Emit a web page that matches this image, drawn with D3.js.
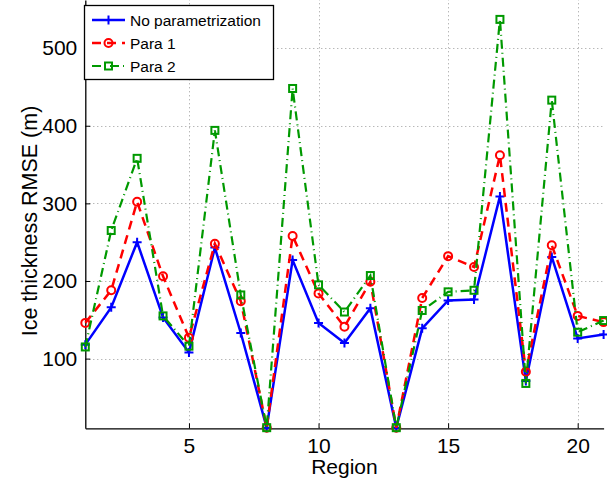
<!DOCTYPE html>
<html>
<head>
<meta charset="utf-8">
<script src="https://cdn.jsdelivr.net/npm/d3@7/dist/d3.min.js"></script>
<style>
  body { margin: 0; background: #fff; }
  svg { display: block; font-family: "Liberation Sans", Arial, sans-serif; }
</style>
</head>
<body>
<svg id="chart" width="607" height="483"></svg>
<script>
const regions = d3.range(1, 22);
const noPara = [118, 166, 250, 153, 108, 243, 133, 11, 227, 146, 120, 165, 11, 139, 175, 176, 309, 71, 231, 126, 131];
const para1  = [146, 188, 302, 206, 127, 248, 174, 11, 258, 184, 141, 199, 11, 178, 232, 218, 362, 83, 246, 155, 147];
const para2  = [115, 265, 358, 155, 116, 394, 182, 11, 448, 195, 160, 207, 11, 162, 186, 188, 537, 68, 433, 134, 149];
const xTicks = [5, 10, 15, 20];
const yTicks = [100, 200, 300, 400, 500];
const seriesNames = ["No parametrization", "Para 1", "Para 2"];

const svg = d3.select("#chart");
const x = d3.scaleLinear().domain([1, 21]).range([85.3, 603.6]);
const y = d3.scaleLinear().domain([10.2, 562]).range([428.3, 0]);

// grid
const grid = svg.append("g").attr("stroke", "#9a9a9a").attr("stroke-width", 1).attr("stroke-dasharray", "1,3");
grid.selectAll(".gx").data(xTicks).join("line")
  .attr("x1", d => Math.round(x(d)) + 0.5).attr("x2", d => Math.round(x(d)) + 0.5)
  .attr("y1", y.range()[0]).attr("y2", 0);
grid.selectAll(".gy").data(yTicks).join("line")
  .attr("y1", d => Math.round(y(d)) + 0.5).attr("y2", d => Math.round(y(d)) + 0.5)
  .attr("x1", x.range()[0]).attr("x2", x.range()[1]);

// axes
const xAxis = d3.axisBottom(x).tickValues(xTicks).tickSizeInner(-5).tickSizeOuter(0).tickPadding(10);
const yAxis = d3.axisLeft(y).tickValues(yTicks).tickSizeInner(-5).tickSizeOuter(0).tickPadding(8);
const gx = svg.append("g").attr("transform", `translate(0,${y.range()[0]})`).call(xAxis);
const gy = svg.append("g").attr("transform", `translate(${x.range()[0]},0)`).call(yAxis);
[gx, gy].forEach(g => {
  g.select(".domain").attr("stroke", "#000").attr("stroke-width", 1.3);
  g.selectAll(".tick line").attr("stroke", "#000").attr("stroke-width", 1);
  g.selectAll(".tick text").attr("fill", "#000").attr("font-size", 21).attr("font-family", "Liberation Sans, Arial, sans-serif");
});

svg.append("text").attr("x", (x.range()[0] + x.range()[1]) / 2).attr("y", 474)
  .attr("text-anchor", "middle").attr("font-size", 21).text("Region");
svg.append("text").attr("transform", `translate(37,221) rotate(-90)`)
  .attr("text-anchor", "middle").attr("font-size", 21.5).text("Ice thickness RMSE (m)");

const styles = [
  { data: noPara, color: "#0000ff", dash: null, width: 2.5, marker: "plus" },
  { data: para1, color: "#ff0000", dash: "9,6", width: 2.5, marker: "circle" },
  { data: para2, color: "#009900", dash: "9,4,1,4", width: 2.2, marker: "square" }
];

function drawMarker(g, type, color) {
  if (type === "plus") {
    g.append("path").attr("d", "M-4.5,0H4.5M0,-4.5V4.5").attr("stroke", color).attr("stroke-width", 2).attr("fill", "none");
  } else if (type === "circle") {
    g.append("circle").attr("r", 4).attr("stroke", color).attr("stroke-width", 2).attr("fill", "none");
  } else {
    g.append("rect").attr("x", -3.5).attr("y", -3.5).attr("width", 7).attr("height", 7)
      .attr("stroke", color).attr("stroke-width", 2).attr("fill", "none");
  }
}

const line = d3.line().x((d, i) => x(regions[i])).y(d => y(d));
styles.forEach(s => {
  const g = svg.append("g");
  g.append("path").datum(s.data).attr("d", line).attr("fill", "none")
    .attr("stroke", s.color).attr("stroke-width", s.width)
    .attr("stroke-dasharray", s.dash);
  s.data.forEach((v, i) => {
    const m = g.append("g").attr("transform", `translate(${x(regions[i])},${y(v)})`);
    drawMarker(m, s.marker, s.color);
  });
});

// legend
const lg = svg.append("g");
lg.append("rect").attr("x", 84.5).attr("y", 5.5).attr("width", 189).attr("height", 74)
  .attr("fill", "#fff").attr("stroke", "#000").attr("stroke-width", 1.3);
styles.forEach((s, i) => {
  const ly = 20 + i * 23;
  lg.append("line").attr("x1", 92).attr("x2", 125).attr("y1", ly).attr("y2", ly)
    .attr("stroke", s.color).attr("stroke-width", s.width).attr("stroke-dasharray", s.dash);
  const m = lg.append("g").attr("transform", `translate(108.5,${ly})`);
  drawMarker(m, s.marker, s.color);
  lg.append("text").attr("x", 130).attr("y", ly + 5.5).attr("font-size", 15.5).text(seriesNames[i]);
});
</script>
</body>
</html>
